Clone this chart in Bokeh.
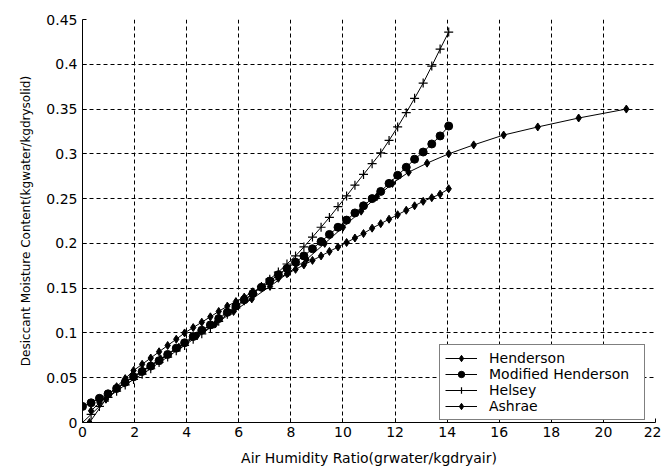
from bokeh.plotting import figure
from bokeh.models import (FixedTicker, CustomJSTickFormatter, Legend, LegendItem, Range1d)
from bokeh.embed import file_html
from bokeh.resources import INLINE

# ---- data ----
x_dense = [0.00, 0.33, 0.65, 0.98, 1.31, 1.64, 1.96, 2.29, 2.62, 2.94, 3.27, 3.60, 3.92, 4.25,
           4.58, 4.91, 5.23, 5.56, 5.89, 6.21, 6.54, 6.87, 7.19, 7.52, 7.85, 8.18, 8.50, 8.83,
           9.16, 9.48, 9.81, 10.14, 10.46, 10.79, 11.12, 11.45, 11.77, 12.10, 12.43, 12.75,
           13.08, 13.41, 13.73, 14.06]

helsey_y = [0.000, 0.009, 0.018, 0.028, 0.035, 0.042, 0.048, 0.054, 0.060, 0.067, 0.073, 0.080,
            0.086, 0.093, 0.099, 0.106, 0.113, 0.121, 0.128, 0.136, 0.144, 0.152, 0.160, 0.168,
            0.177, 0.186, 0.196, 0.207, 0.218, 0.229, 0.241, 0.253, 0.265, 0.277, 0.289, 0.301,
            0.315, 0.330, 0.346, 0.362, 0.379, 0.398, 0.417, 0.436]

modhend_y = [0.018, 0.022, 0.027, 0.032, 0.038, 0.045, 0.051, 0.057, 0.063, 0.069, 0.076, 0.083,
             0.089, 0.096, 0.103, 0.109, 0.116, 0.123, 0.130, 0.137, 0.144, 0.151, 0.158, 0.165,
             0.172, 0.179, 0.186, 0.194, 0.202, 0.210, 0.218, 0.226, 0.234, 0.242, 0.250, 0.258,
             0.267, 0.276, 0.285, 0.294, 0.302, 0.311, 0.320, 0.331]

ashrae_x = x_dense[1:]
ashrae_y = [0.013, 0.022, 0.031, 0.040, 0.049, 0.058, 0.065, 0.072, 0.079, 0.086, 0.093,
            0.100, 0.106, 0.112, 0.118, 0.124, 0.130, 0.135, 0.140, 0.146, 0.151, 0.156, 0.161,
            0.166, 0.171, 0.176, 0.181, 0.186, 0.191, 0.196, 0.201, 0.206, 0.211, 0.217, 0.222,
            0.227, 0.232, 0.237, 0.242, 0.247, 0.251, 0.255, 0.261]

hend_x = [0.27, 0.9, 1.6, 2.3, 3.0, 3.7, 4.4, 5.1, 5.8, 6.5, 7.2, 7.9, 8.6, 9.3, 10.0, 10.7,
          11.3, 11.9, 12.52, 13.23, 14.06, 15.02, 16.17, 17.48, 19.05, 20.88]
hend_y = [0.000, 0.026, 0.044, 0.058, 0.071, 0.084, 0.097, 0.110, 0.124, 0.138, 0.152, 0.167,
          0.182, 0.200, 0.218, 0.236, 0.252, 0.267, 0.2795, 0.2896, 0.300, 0.310, 0.321, 0.330,
          0.340, 0.350]

x_ticks = [0, 2, 4, 6, 8, 10, 12, 14, 16, 18, 20, 22]
y_ticks = [0, 0.05, 0.1, 0.15, 0.2, 0.25, 0.3, 0.35, 0.4, 0.45]
legend_labels = ["Henderson", "Modified Henderson", "Helsey", "Ashrae"]

FONT = "DejaVu Sans"

p = figure(width=661, height=472, output_backend="svg", toolbar_location=None,
           x_range=Range1d(0, 22), y_range=Range1d(0, 0.45),
           min_border_left=82, min_border_right=6, min_border_top=19, min_border_bottom=50)
p.outline_line_color = None
p.background_fill_color = "white"
p.border_fill_color = "white"

for ax in (p.xaxis[0], p.yaxis[0]):
    ax.axis_line_color = "black"
    ax.major_tick_line_color = "black"
    ax.major_tick_in = 4
    ax.major_tick_out = 0
    ax.minor_tick_line_color = None
    ax.major_label_text_font = FONT
    ax.major_label_text_font_size = "14px"
    ax.major_label_text_color = "black"
    ax.axis_label_text_font = FONT
    ax.axis_label_text_font_style = "normal"
    ax.axis_label_text_color = "black"

p.xaxis.axis_label_text_font_size = "14px"
p.yaxis.axis_label_text_font_size = "12px"
p.xaxis.ticker = FixedTicker(ticks=x_ticks)
p.yaxis.ticker = FixedTicker(ticks=y_ticks)
p.yaxis.formatter = CustomJSTickFormatter(code="return String(parseFloat(tick.toFixed(2)));")
p.xaxis.axis_label = "Air Humidity Ratio(grwater/kgdryair)"
p.yaxis.axis_label = "Desiccant Moisture Content(kgwater/kgdrysolid)"
p.xaxis.major_label_standoff = 4
p.xaxis.axis_label_standoff = 10
p.yaxis.major_label_standoff = 5
p.yaxis.axis_label_standoff = 10

for g in (p.xgrid[0], p.ygrid[0]):
    g.grid_line_color = "black"
    g.grid_line_dash = "4 3"
    g.grid_line_width = 1

# ---- series ----
r1l = p.line(hend_x, hend_y, line_color="black", line_width=1)
r1m = p.scatter(hend_x, hend_y, marker="diamond", size=8, fill_color="black", line_color="black")

r2l = p.line(x_dense, modhend_y, line_color="black", line_width=1)
r2m = p.scatter(x_dense, modhend_y, marker="circle", size=8, fill_color="black", line_color="black")

r3l = p.line(x_dense, helsey_y, line_color="black", line_width=1)
r3m = p.scatter(x_dense, helsey_y, marker="cross", size=9, line_color="black", line_width=1.2)

r4l = p.line(ashrae_x, ashrae_y, line_color="black", line_width=1)
r4m = p.scatter(ashrae_x, ashrae_y, marker="diamond", size=8, fill_color="black", line_color="black")

legend = Legend(items=[
    LegendItem(label=legend_labels[0], renderers=[r1l, r1m]),
    LegendItem(label=legend_labels[1], renderers=[r2l, r2m]),
    LegendItem(label=legend_labels[2], renderers=[r3l, r3m]),
    LegendItem(label=legend_labels[3], renderers=[r4l, r4m]),
], location=(357, 2))
legend.border_line_color = "black"
legend.border_line_width = 1
legend.background_fill_color = "white"
legend.background_fill_alpha = 1
legend.label_text_font = FONT
legend.label_text_font_size = "14px"
legend.label_text_color = "black"
legend.glyph_width = 32
legend.glyph_height = 16
legend.label_height = 16
legend.label_standoff = 12
legend.label_width = 150
legend.spacing = 0
legend.padding = 5
legend.margin = 0
p.add_layout(legend, "center")

open("out.html", "w").write(file_html(p, INLINE))
